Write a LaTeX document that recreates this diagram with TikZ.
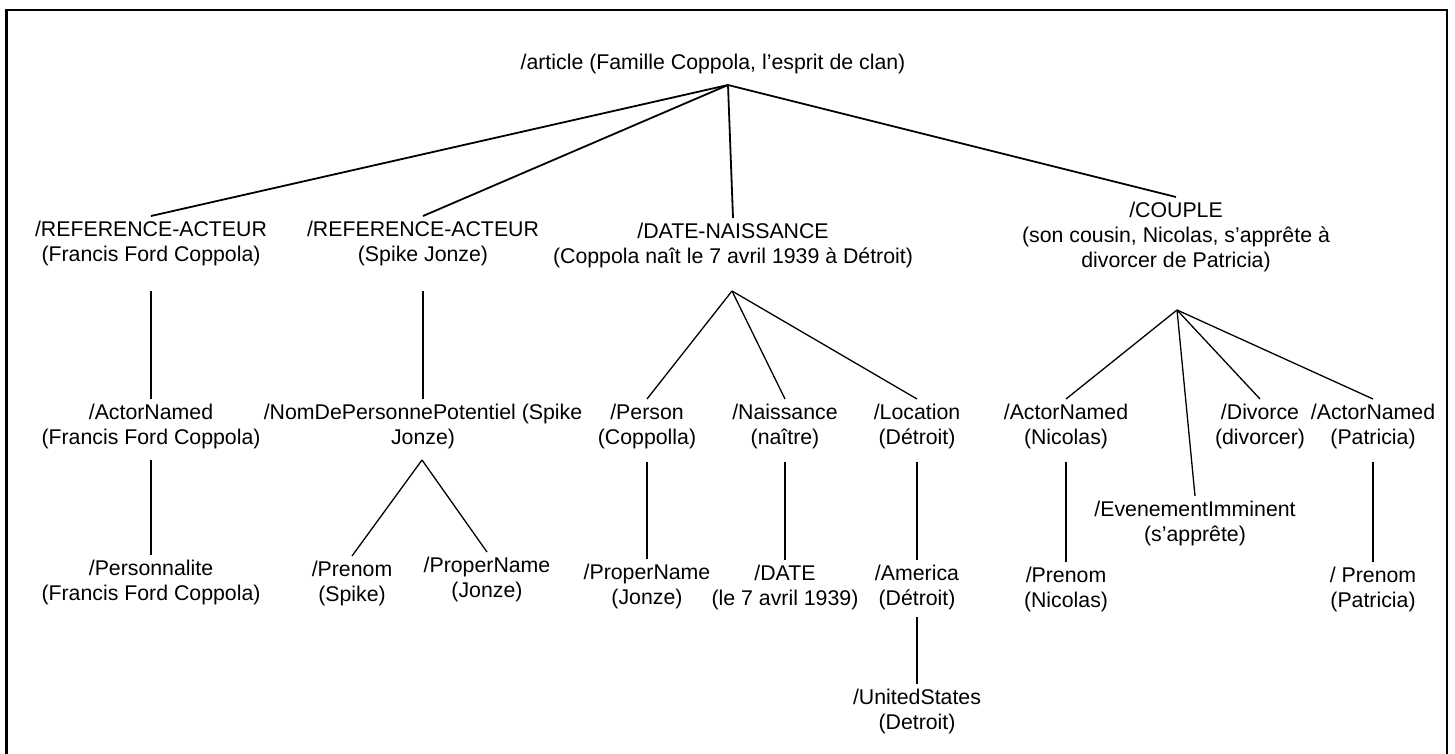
\documentclass[tikz,border=0pt]{standalone}
\usepackage{fontspec}
\setmainfont{Liberation Sans}
\begin{document}
\begin{tikzpicture}[x=1pt,y=-1pt,
  lbl/.style={anchor=north, align=center, inner xsep=0pt, inner ysep=5pt,
              font=\fontsize{21.3}{25}\selectfont},
  rootedge/.style={line width=1.8pt},
  edge/.style={line width=1.3pt},
  frame/.style={line width=2.4pt}]
\useasboundingbox (0,0) rectangle (1455,754);
% outer frame (its lower edge lies below the page)
\draw[frame] (6.5,770) -- (6.5,10) -- (1447,10) -- (1447,770);

% root
\node[lbl] (root) at (713,49) {/article (Famille Coppola, l’esprit de clan)};
\coordinate (jroot) at (728,85);

% first level
\node[lbl] (ref1) at (151,216) {/REFERENCE-ACTEUR\\(Francis Ford Coppola)};
\node[lbl] (ref2) at (423,216) {/REFERENCE-ACTEUR\\(Spike Jonze)};
\node[lbl] (date) at (733,218) {/DATE-NAISSANCE\\(Coppola naît le 7 avril 1939 à Détroit)};
\node[lbl] (couple) at (1176,197) {/COUPLE\\(son cousin, Nicolas, s’apprête à\\divorcer de Patricia)};

\coordinate (jref1) at (151,291);
\coordinate (jref2) at (423,291);
\coordinate (jdate) at (732,291);
\coordinate (jcouple) at (1177,310);

% second level
\node[lbl] (an1) at (151,399) {/ActorNamed\\(Francis Ford Coppola)};
\node[lbl] (nom) at (423,399) {/NomDePersonnePotentiel (Spike\\Jonze)};
\node[lbl] (person) at (647,399) {/Person\\(Coppolla)};
\node[lbl] (naiss) at (785,399) {/Naissance\\(naître)};
\node[lbl] (loc) at (917,399) {/Location\\(Détroit)};
\node[lbl] (an2) at (1066,399) {/ActorNamed\\(Nicolas)};
\node[lbl] (even) at (1195,496) {/EvenementImminent\\(s’apprête)};
\node[lbl] (divorce) at (1260,399) {/Divorce\\(divorcer)};
\node[lbl] (an3) at (1373,399) {/ActorNamed\\(Patricia)};

\coordinate (jan1) at (151,460);
\coordinate (jnom) at (422,460);
\coordinate (jperson) at (647,462);
\coordinate (jnaiss) at (785,462);
\coordinate (jloc) at (917,462);
\coordinate (jan2) at (1066,462);
\coordinate (jan3) at (1373,462);

% third level
\node[lbl] (pers) at (151,555) {/Personnalite\\(Francis Ford Coppola)};
\node[lbl] (prenom) at (352,556) {/Prenom\\(Spike)};
\node[lbl] (proper1) at (487,552) {/ProperName\\(Jonze)};
\node[lbl] (proper2) at (647,559) {/ProperName\\(Jonze)};
\node[lbl] (date2) at (785,560) {/DATE\\(le 7 avril 1939)};
\node[lbl] (america) at (917,560) {/America\\(Détroit)};
\node[lbl] (prenom2) at (1066,562) {/Prenom\\(Nicolas)};
\node[lbl] (prenom3) at (1373,562) {/ Prenom\\(Patricia)};

\coordinate (jam) at (917,617);

% fourth level
\node[lbl] (us) at (917,684) {/UnitedStates\\(Detroit)};

% connectors
\draw[rootedge] (jroot) -- (ref1.north);
\draw[rootedge] (jroot) -- (ref2.north);
\draw[rootedge] (jroot) -- (date.north);
\draw[rootedge] (jroot) -- (couple.north);

\draw[edge] (jref1) -- (an1.north);
\draw[edge] (jref2) -- (nom.north);
\draw[edge] (jdate) -- (person.north);
\draw[edge] (jdate) -- (naiss.north);
\draw[edge] (jdate) -- (loc.north);
\draw[edge] (jcouple) -- (an2.north);
\draw[edge] (jcouple) -- (even.north);
\draw[edge] (jcouple) -- (divorce.north);
\draw[edge] (jcouple) -- (an3.north);

\draw[edge] (jan1) -- (pers.north);
\draw[edge] (jnom) -- (prenom.north);
\draw[edge] (jnom) -- (proper1.north);
\draw[edge] (jperson) -- (proper2.north);
\draw[edge] (jnaiss) -- (date2.north);
\draw[edge] (jloc) -- (america.north);
\draw[edge] (jan2) -- (prenom2.north);
\draw[edge] (jan3) -- (prenom3.north);
\draw[edge] (jam) -- (us.north);
\end{tikzpicture}
\end{document}
